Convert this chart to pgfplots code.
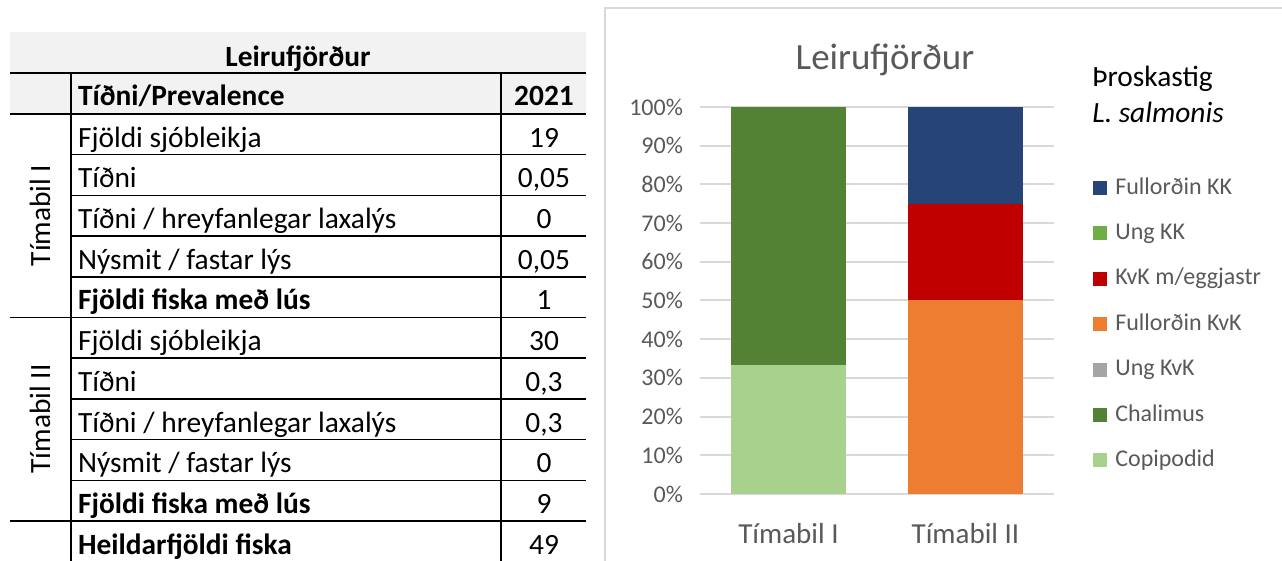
\documentclass[border=0pt]{standalone}
\usepackage{pgfplots}
\pgfplotsset{compat=1.18}
\usepackage{pgfplotstable}
\usepackage{fontspec}
\setmainfont{Carlito}

\definecolor{txtgray}{HTML}{595959}
\definecolor{gridgray}{HTML}{D9D9D9}
\definecolor{hdrgray}{HTML}{F2F2F2}
\definecolor{cCopi}{HTML}{A9D18E}
\definecolor{cChal}{HTML}{548235}
\definecolor{cUngKvK}{HTML}{A5A5A5}
\definecolor{cFullKvK}{HTML}{ED7D31}
\definecolor{cEgg}{HTML}{C00000}
\definecolor{cUngKK}{HTML}{70AD47}
\definecolor{cFullKK}{HTML}{264478}

% shares of each stage, in percent
\pgfplotstableread{
x Copi Chal UngKvK FullKvK Egg UngKK FullKK
0 33.33 66.67 0 0 0 0 0
1 0 0 0 50 25 0 25
}\stages

\newcommand{\tf}{\fontsize{14.7}{17}\selectfont}
% one table row: row number, label, value, label font
\newcommand{\trow}[4]{%
  \node[font=\tf#4, anchor=mid west] at (71,{142.4+40.7*#1}) {#2};
  \node[font=\tf, anchor=mid] at (544,{142.4+40.7*#1}) {#3};}

\begin{document}
\begin{tikzpicture}
\path[use as bounding box] (0,0) rectangle (641pt,-280.5pt);

% ---- table (pixel units) ----
\begin{scope}[x=0.5pt, y=-0.5pt]
  \fill[hdrgray] (10,32) rectangle (586,114);
  \begin{scope}[line width=0.75pt]
    \foreach \yy in {73,114,317.5,521}
      \draw (10,\yy) -- (586,\yy);
    \foreach \yy in {154.7,195.4,236.1,276.8,358.2,398.9,439.6,480.3}
      \draw (71,\yy) -- (586,\yy);
    \draw (71,73) -- (71,570);
    \draw (501,73) -- (501,570);
  \end{scope}
  \node[font=\tf\bfseries] at (298,59) {Leirufjörður};
  \node[font=\tf\bfseries, anchor=mid west] at (71,101) {Tíðni/Prevalence};
  \node[font=\tf\bfseries, anchor=mid] at (544,101) {2021};
  \trow{0}{Fjöldi sjóbleikja}{19}{}
  \trow{1}{Tíðni}{0,05}{}
  \trow{2}{Tíðni / hreyfanlegar laxalýs}{0}{}
  \trow{3}{Nýsmit / fastar lýs}{0,05}{}
  \trow{4}{Fjöldi fiska með lús}{1}{\bfseries}
  \trow{5}{Fjöldi sjóbleikja}{30}{}
  \trow{6}{Tíðni}{0,3}{}
  \trow{7}{Tíðni / hreyfanlegar laxalýs}{0,3}{}
  \trow{8}{Nýsmit / fastar lýs}{0}{}
  \trow{9}{Fjöldi fiska með lús}{9}{\bfseries}
  \trow{10}{Heildarfjöldi fiska}{49}{\bfseries}
  \node[font=\tf, rotate=90] at (40,215.5) {Tímabil I};
  \node[font=\tf, rotate=90] at (40,419) {Tímabil II};

  % chart frame and texts
  \draw[gridgray, line width=0.75pt] (605,8) rectangle (1300,580);
  \node[font=\fontsize{18.5}{22}\selectfont, text=txtgray] at (885,60) {Leirufjörður};
  \node[font=\tf, anchor=mid west, inner sep=0pt] at (1092,82) {Þroskastig};
  \node[font=\tf\itshape, anchor=mid west, inner sep=0pt] at (1092,118) {L. salmonis};
\end{scope}

% ---- stacked bar chart ----
\begin{axis}[
  at={(350pt,-247pt)}, anchor=south west,
  scale only axis, width=177pt, height=193.5pt,
  ybar stacked, bar width=57.5pt,
  xmin=-0.5, xmax=1.5, ymin=0, ymax=100,
  xtick={0,1}, xticklabels={Tímabil I, Tímabil II},
  ytick={0,10,...,100},
  yticklabel={\pgfmathprintnumber{\tick}\%},
  /pgf/number format/assume math mode=true,
  ymajorgrids, grid style={gridgray, line width=1pt},
  axis line style={draw=none}, major tick length=0pt,
  yticklabel style={font=\fontsize{12}{14}\selectfont, text=txtgray, xshift=-5pt},
  xticklabel style={font=\fontsize{14.5}{17}\selectfont, text=txtgray, yshift=-11pt},
  reverse legend,
  legend cell align=left,
  legend style={at={(1.11,0.82)}, anchor=north west, draw=none, fill=none,
    font=\fontsize{12}{14}\selectfont, text=txtgray, inner sep=0pt,
    row sep=11.7pt,
    nodes={inner sep=0pt, text height=8.5pt, text depth=2.5pt}},
  legend image code/.code={\path[fill] (0pt,-3.5pt) rectangle (7pt,3.5pt);},
  /tikz/every odd column/.append style={column sep=4pt},
  every axis plot/.append style={draw=none}
]
\addplot[fill=cCopi] table[x=x, y=Copi] {\stages};
\addplot[fill=cChal] table[x=x, y=Chal] {\stages};
\addplot[fill=cUngKvK] table[x=x, y=UngKvK] {\stages};
\addplot[fill=cFullKvK] table[x=x, y=FullKvK] {\stages};
\addplot[fill=cEgg] table[x=x, y=Egg] {\stages};
\addplot[fill=cUngKK] table[x=x, y=UngKK] {\stages};
\addplot[fill=cFullKK] table[x=x, y=FullKK] {\stages};
\legend{Copipodid, Chalimus, Ung KvK, Fullorðin KvK, KvK m/eggjastr, Ung KK, Fullorðin KK}
\end{axis}
\end{tikzpicture}
\end{document}
